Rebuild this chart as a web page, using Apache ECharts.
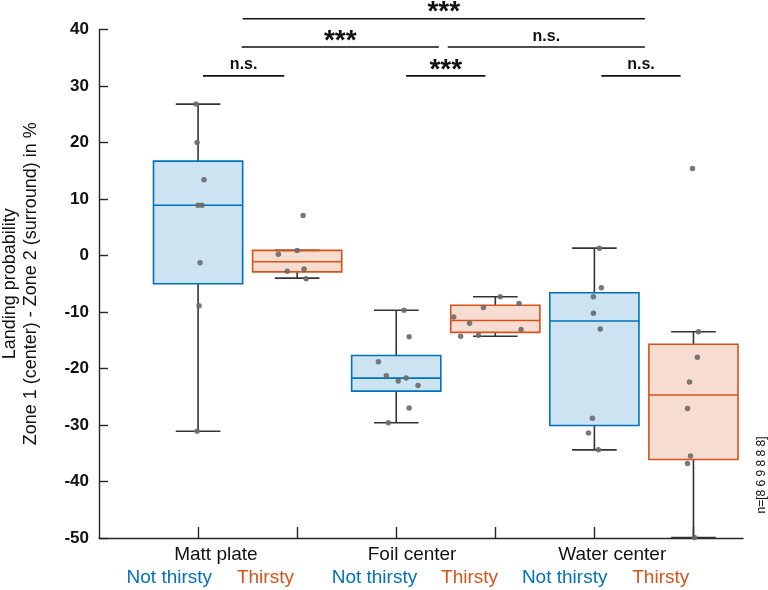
<!DOCTYPE html>
<html>
<head>
<meta charset="utf-8">
<script src="https://cdn.jsdelivr.net/npm/echarts@6/dist/echarts.min.js"></script>
<style>html,body{margin:0;padding:0;background:#fff}#c{width:768px;height:590px}</style>
</head>
<body>
<div id="c"></div>
<script>
// ---------------- DATA ----------------
const groups = ['Matt plate', 'Foil center', 'Water center'];
const conditions = ['Not thirsty', 'Thirsty'];

// box statistics per group: [lower whisker, Q1, median, Q3, upper whisker]
const notThirstyStats = [
  [-31.1, -5.0, 8.9, 16.7, 26.8],
  [-29.6, -24.0, -21.7, -17.7, -9.7],
  [-34.4, -30.1, -11.6, -6.6, 1.3]
];
const thirstyStats = [
  [-4.0, -2.9, -1.1, 0.9, 0.9],
  [-14.3, -13.6, -11.5, -8.8, -7.3],
  [-49.9, -36.1, -24.7, -15.7, -13.5]
];

// individual animals
const mattNotThirsty  = [26.8, 20.0, 13.4, 8.9, 8.9, -1.3, -8.9, -31.1];
const mattThirsty     = [7.1, 0.9, 0.2, -2.8, -2.4, -4.1];
const foilNotThirsty  = [-9.7, -14.4, -18.8, -21.3, -22.2, -21.7, -23.0, -27.0, -29.6];
const foilThirsty     = [-7.3, -8.5, -9.2, -10.9, -12.0, -13.1, -14.3, -14.1];
const waterNotThirsty = [1.3, -5.7, -7.3, -10.2, -13.0, -28.8, -31.4, -34.4];
const waterThirsty    = [15.4, -13.5, -18.0, -22.4, -27.1, -35.5, -36.8, -49.9];

// significance comparisons (box index 1..6 along x)
const sigFrom  = [1.05, 3.10, 5.07, 1.44, 3.52, 1.45];
const sigTo    = [1.87, 3.90, 5.87, 3.43, 5.51, 5.51];
const sigLevel = [31.8, 31.8, 31.8, 36.9, 36.9, 41.9];
const sigText  = ['n.s.', '***', 'n.s.', '***', 'n.s.', '***'];

// y axis ticks
const yMin = -50, yMax = 40, yStep = 10;

// ---------------- LAYOUT (positions / styles) ----------------
const jitter = [
  [-0.02, -0.01, 0.06, 0.0, 0.04, 0.02, 0.01, -0.01],
  [0.06, 0.0, -0.19, -0.10, 0.07, 0.09],
  [0.08, 0.13, -0.18, -0.10, 0.02, 0.10, 0.22, 0.13, -0.08],
  [0.05, 0.24, -0.12, -0.42, -0.26, 0.26, -0.35, -0.17],
  [0.05, 0.07, -0.01, -0.01, 0.06, -0.02, -0.06, 0.04],
  [-0.01, 0.05, 0.04, -0.04, -0.06, -0.03, -0.06, 0.01]
];
const groupLabelPos = [1.18, 3.16, 5.18];
const condLabelPos = [0.71, 1.68, 2.78, 3.74, 4.70, 5.67];
const BOX_W = 0.9, CAP_W = 0.45;
const BLUE = '#0072BD', ORANGE = '#D95319';
const BLUE_FILL = 'rgba(0,114,189,0.2)', ORANGE_FILL = 'rgba(217,83,25,0.2)';
const AX = '#262626';
const FONT = 'Liberation Sans, Arial, Helvetica, sans-serif';

// ---------------- BUILD ----------------
const allPoints = [mattNotThirsty, mattThirsty, foilNotThirsty, foilThirsty, waterNotThirsty, waterThirsty];
const boxPos = (g, c) => g * 2 + c + 1;

const ntBoxData = notThirstyStats.map((s, g) => [boxPos(g, 0)].concat(s));
const tBoxData = thirstyStats.map((s, g) => [boxPos(g, 1)].concat(s));

const pointData = [];
allPoints.forEach((arr, i) => {
  arr.forEach((v, j) => pointData.push([i + 1 + jitter[i][j], v]));
});

const sigData = sigFrom.map((f, i) => [f, sigTo[i], sigLevel[i], i]);

function nearestIndex(list, v) {
  let best = 0, d = Infinity;
  list.forEach((p, i) => { const dd = Math.abs(p - v); if (dd < d) { d = dd; best = i; } });
  return best;
}

function renderBox(color, fill) {
  return function (params, api) {
    const x = api.value(0);
    const lo = api.coord([x, api.value(1)]);
    const q1 = api.coord([x, api.value(2)]);
    const md = api.coord([x, api.value(3)]);
    const q3 = api.coord([x, api.value(4)]);
    const hi = api.coord([x, api.value(5)]);
    const bw = api.size([BOX_W, 0])[0];
    const cw = api.size([CAP_W, 0])[0];
    const cx = lo[0];
    const wl = { stroke: '#333333', lineWidth: 1.6 };
    return {
      type: 'group',
      children: [
        { type: 'line', shape: { x1: cx, y1: lo[1], x2: cx, y2: q1[1] }, style: wl },
        { type: 'line', shape: { x1: cx, y1: q3[1], x2: cx, y2: hi[1] }, style: wl },
        { type: 'line', shape: { x1: cx - cw / 2, y1: lo[1], x2: cx + cw / 2, y2: lo[1] }, style: wl },
        { type: 'line', shape: { x1: cx - cw / 2, y1: hi[1], x2: cx + cw / 2, y2: hi[1] }, style: wl },
        { type: 'rect', shape: { x: cx - bw / 2, y: q3[1], width: bw, height: q1[1] - q3[1] },
          style: { fill: fill, stroke: color, lineWidth: 1.6 } },
        { type: 'line', shape: { x1: cx - bw / 2, y1: md[1], x2: cx + bw / 2, y2: md[1] },
          style: { stroke: color, lineWidth: 1.6 } }
      ]
    };
  };
}

function renderSig(params, api) {
  const a = api.coord([api.value(0), api.value(2)]);
  const b = api.coord([api.value(1), api.value(2)]);
  const txt = sigText[api.value(3)];
  const stars = txt === '***';
  return {
    type: 'group',
    children: [
      { type: 'line', shape: { x1: a[0], y1: a[1], x2: b[0], y2: b[1] }, style: { stroke: '#111', lineWidth: 1.6 } },
      { type: 'text', x: (a[0] + b[0]) / 2, y: a[1] - (stars ? 6 : 10.8),
        style: { text: txt, fill: '#111', align: 'center', verticalAlign: 'middle',
                 font: stars ? 'bold 28px ' + FONT : 'bold 16px ' + FONT } }
    ]
  };
}

const chart = echarts.init(document.getElementById('c'), null, { renderer: 'canvas' });
chart.setOption({
  animation: false,
  backgroundColor: '#ffffff',
  textStyle: { fontFamily: FONT },
  grid: { left: 99, right: 25, top: 29.5, bottom: 52, containLabel: false, outerBoundsMode: 'none' },
  xAxis: [
    {
      type: 'value', min: 0, max: 6.5, position: 'bottom',
      axisLine: { show: true, onZero: false, lineStyle: { color: AX, width: 1.4 } },
      axisTick: { show: true, inside: true, length: 11, customValues: [1, 2, 3, 4, 5, 6],
                  lineStyle: { color: AX, width: 1.4 } },
      axisLabel: {
        show: true, customValues: groupLabelPos, margin: 7,
        fontSize: 19, color: '#111', fontFamily: FONT,
        formatter: v => groups[nearestIndex(groupLabelPos, v)]
      },
      splitLine: { show: false }
    },
    {
      type: 'value', min: 0, max: 6.5, position: 'bottom', offset: 0,
      axisLine: { show: false, onZero: false }, axisTick: { show: false }, splitLine: { show: false },
      axisLabel: {
        show: true, customValues: condLabelPos, margin: 30,
        fontSize: 19, fontFamily: FONT,
        formatter: v => {
          const i = nearestIndex(condLabelPos, v);
          return i % 2 === 0 ? '{a|' + conditions[0] + '}' : '{b|' + conditions[1] + '}';
        },
        rich: {
          a: { color: BLUE, fontSize: 19, fontFamily: FONT },
          b: { color: ORANGE, fontSize: 19, fontFamily: FONT }
        }
      }
    }
  ],
  yAxis: {
    type: 'value', min: yMin, max: yMax, interval: yStep,
    name: 'Landing probability\nZone 1 (center) - Zone 2 (surround) in %',
    nameLocation: 'middle', nameGap: 57,
    nameTextStyle: { fontSize: 18, color: '#111', lineHeight: 21, fontFamily: FONT },
    axisLine: { show: true, onZero: false, lineStyle: { color: AX, width: 1.4 } },
    axisTick: { show: true, inside: true, length: 9, lineStyle: { color: AX, width: 1.4 } },
    axisLabel: { margin: 10, fontSize: 17, fontWeight: 'bold', color: '#111', fontFamily: FONT },
    splitLine: { show: false }
  },
  series: [
    { type: 'custom', name: conditions[0], renderItem: renderBox(BLUE, BLUE_FILL),
      data: ntBoxData, encode: { x: 0, y: [1, 2, 3, 4, 5] }, z: 2 },
    { type: 'custom', name: conditions[1], renderItem: renderBox(ORANGE, ORANGE_FILL),
      data: tBoxData, encode: { x: 0, y: [1, 2, 3, 4, 5] }, z: 2 },
    { type: 'scatter', data: pointData, symbolSize: 5.5, clip: false,
      itemStyle: { color: '#6a6a6a', opacity: 0.9 }, z: 5 },
    { type: 'custom', renderItem: renderSig, data: sigData, clip: false,
      encode: { x: [0, 1], y: 2 }, z: 6 }
  ],
  graphic: [
    { type: 'text', x: 762, y: 475, rotation: Math.PI / 2,
      style: { text: 'n=[' + allPoints.map(a => a.length).join(' ') + ']',
               font: '12px ' + FONT, fill: '#111', align: 'center', verticalAlign: 'middle' } }
  ]
});
</script>
</body>
</html>
